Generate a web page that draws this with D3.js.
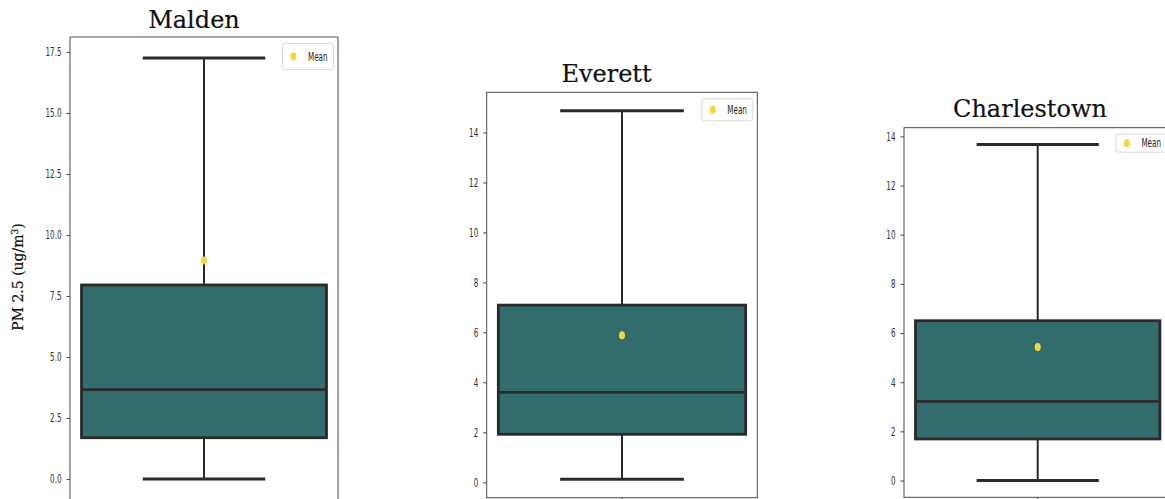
<!DOCTYPE html>
<html>
<head>
<meta charset="utf-8">
<script src="https://cdn.jsdelivr.net/npm/d3@7"></script>
<style>
  html, body { margin: 0; padding: 0; background: #fff; }
  svg { display: block; }
</style>
</head>
<body>
<svg id="chart" width="1165" height="499"></svg>
<script>
// PM 2.5 distribution per monitoring site (ug/m3)
const sites        = ["Malden", "Everett", "Charlestown"];
const whiskerLow   = [0.00, 0.12, 0.00];
const quartile1    = [1.69, 1.92, 1.69];
const medians      = [3.66, 3.60, 3.22];
const quartile3    = [7.95, 7.09, 6.50];
const whiskerHigh  = [17.25, 14.87, 13.67];
const means        = [8.95, 5.88, 5.43];
const tickValues   = [
  [0, 2.5, 5, 7.5, 10, 12.5, 15, 17.5],
  [0, 2, 4, 6, 8, 10, 12, 14],
  [0, 2, 4, 6, 8, 10, 12, 14]
];
const tickFormats  = [".1f", "d", "d"];
const legendLabel  = "Mean";
const yLabel       = "PM 2.5 (ug/m";

// panel frames: left, right, top, bottom (px)
const frames = [
  { x0: 70,    x1: 338,    y0: 37,    y1: 500,   titleX: 194,   titleY: 28,  legH: 26 },
  { x0: 486.7, x1: 757.3,  y0: 92.3,  y1: 497.7, titleX: 606.5, titleY: 82,  legH: 22 },
  { x0: 904,   x1: 1171.4, y0: 127.7, y1: 497.3, titleX: 1030,  titleY: 117, legH: 18 }
];

const boxFill = "#336c6c";
const ink = "#2a2a2a";
const meanColor = "#f8d540";
const squeeze = 0.6; // narrow glyphs for tick and legend text

const svg = d3.select("#chart");

sites.forEach((site, i) => {
  const f = frames[i];
  const pad = (whiskerHigh[i] - whiskerLow[i]) * 0.05;
  const y = d3.scaleLinear()
    .domain([whiskerLow[i] - pad, whiskerHigh[i] + pad])
    .range([f.y1, f.y0]);
  const x = d3.scaleBand().domain([site]).range([f.x0, f.x1]).paddingInner(0).paddingOuter(0.047);
  const cx = x(site) + x.bandwidth() / 2;
  const boxW = x.bandwidth();
  const capW = boxW * 0.5;

  const g = svg.append("g");

  // frame
  g.append("rect")
    .attr("x", f.x0).attr("y", f.y0)
    .attr("width", f.x1 - f.x0).attr("height", f.y1 - f.y0)
    .attr("fill", "none").attr("stroke", "#4a4a4a").attr("stroke-width", 1);

  // y axis
  const axis = g.append("g")
    .attr("transform", `translate(${f.x0},0)`)
    .call(d3.axisLeft(y).tickValues(tickValues[i]).tickFormat(d3.format(tickFormats[i])).tickSize(3.5).tickPadding(3));
  axis.select(".domain").remove();
  axis.selectAll(".tick line").attr("stroke", "#444");
  axis.selectAll(".tick text")
    .attr("fill", "#2e2e2e")
    .attr("font-family", "DejaVu Sans, sans-serif")
    .attr("font-size", 12)
    .attr("x", -8.5 / squeeze)
    .attr("transform", `scale(${squeeze},1)`);

  // x tick under the box
  g.append("line")
    .attr("x1", cx).attr("x2", cx)
    .attr("y1", f.y1).attr("y2", f.y1 + 3.5)
    .attr("stroke", "#444");

  // whisker stem
  g.append("line")
    .attr("x1", cx).attr("x2", cx)
    .attr("y1", y(whiskerLow[i])).attr("y2", y(whiskerHigh[i]))
    .attr("stroke", ink).attr("stroke-width", 2);

  // box
  g.append("rect")
    .attr("x", x(site)).attr("y", y(quartile3[i]))
    .attr("width", boxW).attr("height", y(quartile1[i]) - y(quartile3[i]))
    .attr("fill", boxFill).attr("stroke", ink).attr("stroke-width", 2.8);

  // median
  g.append("line")
    .attr("x1", x(site)).attr("x2", x(site) + boxW)
    .attr("y1", y(medians[i])).attr("y2", y(medians[i]))
    .attr("stroke", ink).attr("stroke-width", 2.8);

  // caps
  [whiskerLow[i], whiskerHigh[i]].forEach(v => {
    g.append("line")
      .attr("x1", cx - capW / 2).attr("x2", cx + capW / 2)
      .attr("y1", y(v)).attr("y2", y(v))
      .attr("stroke", ink).attr("stroke-width", 3);
  });

  // mean marker
  g.append("ellipse")
    .attr("cx", cx).attr("cy", y(means[i]))
    .attr("rx", 3).attr("ry", 4)
    .attr("fill", meanColor);

  // title
  g.append("text")
    .attr("x", f.titleX).attr("y", f.titleY)
    .attr("text-anchor", "middle")
    .attr("font-family", "DejaVu Serif, serif")
    .attr("font-size", 24)
    .attr("fill", "#111")
    .attr("stroke", "#111").attr("stroke-width", 0.2)
    .text(site);

  // legend
  const legW = 51;
  const lx = f.x1 - 4.5 - legW, ly = f.y0 + 6.5;
  const leg = g.append("g").attr("transform", `translate(${lx},${ly})`);
  leg.append("rect")
    .attr("width", legW).attr("height", f.legH)
    .attr("rx", 2.5)
    .attr("fill", "#fff").attr("stroke", "#d8d8d8");
  leg.append("ellipse")
    .attr("cx", 11).attr("cy", f.legH / 2)
    .attr("rx", 3).attr("ry", 4)
    .attr("fill", meanColor);
  leg.append("text")
    .attr("x", 25.5 / squeeze).attr("y", f.legH / 2)
    .attr("dy", "0.35em")
    .attr("transform", `scale(${squeeze},1)`)
    .attr("font-family", "DejaVu Sans, sans-serif")
    .attr("font-size", 12)
    .attr("fill", "#222")
    .text(legendLabel);
});

// shared y label
const yl = svg.append("text")
  .attr("transform", "translate(23,277) rotate(-90)")
  .attr("text-anchor", "middle")
  .attr("font-family", "DejaVu Serif, serif")
  .attr("font-size", 14)
  .attr("fill", "#111")
  .attr("stroke", "#111").attr("stroke-width", 0.2);
yl.append("tspan").text(yLabel);
yl.append("tspan").attr("font-size", 9).attr("dy", -5).text("3");
yl.append("tspan").attr("dy", 5).text(")");
</script>
</body>
</html>
